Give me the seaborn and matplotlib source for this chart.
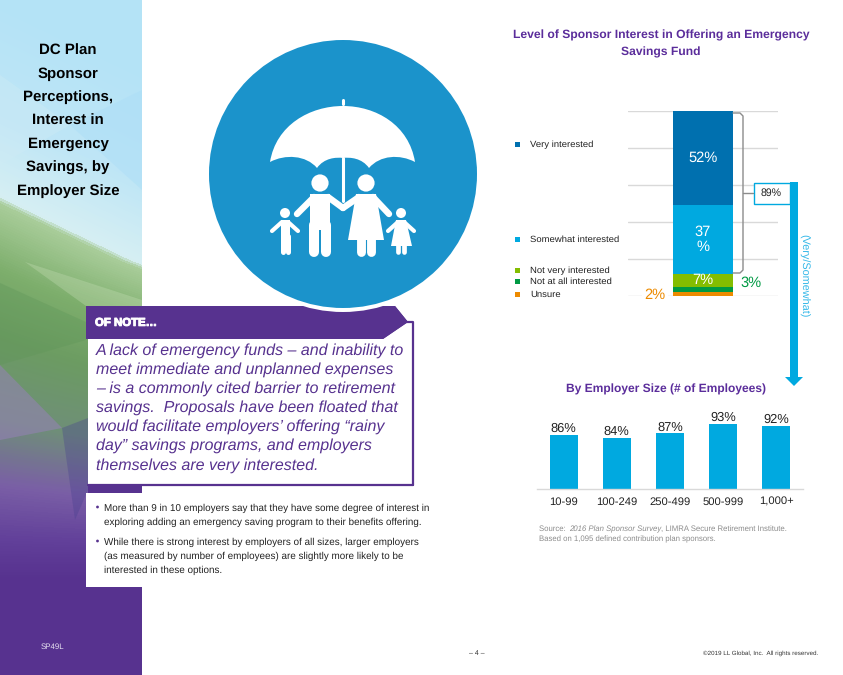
import numpy as np
import pandas as pd
import seaborn as sns
import matplotlib.pyplot as plt
import matplotlib.patheffects as pe
from matplotlib.patches import Polygon, Circle, Rectangle, PathPatch
from matplotlib.path import Path
from matplotlib.colors import LinearSegmentedColormap

# stacked bar, bottom to top
stack_labels = ['Unsure', 'Not at all interested', 'Not very interested', 'Somewhat interested', 'Very interested']
stack_values = [2, 3, 7, 37, 52]
stack_colors = ['#ED8B00', '#009A44', '#84BD00', '#00A9E0', '#0070AF']

sizes = ['10-99', '100-249', '250-499', '500-999', '1,000+']
size_values = [86, 84, 87, 93, 92]

PURPLE = '#57328F'
TITLE_PURPLE = '#5B2D9B'
BLUE = '#00A9E0'
W, H = 843, 675

sns.set_theme(style='white')
plt.rcParams['font.family'] = ['Liberation Sans', 'DejaVu Sans']
plt.rcParams['text.hinting'] = 'no_hinting'
plt.rcParams['patch.linewidth'] = 0

fig = plt.figure(figsize=(W / 100, H / 100), dpi=100, facecolor='white')


def px_axes(z):
    a = fig.add_axes([0, 0, 1, 1], zorder=z)
    a.set_xlim(0, W)
    a.set_ylim(H, 0)
    a.axis('off')
    a.patch.set_alpha(0)
    return a


def chart_axes(x0, x1, y_top, y_bottom):
    return fig.add_axes([x0 / W, 1 - y_bottom / H, (x1 - x0) / W, (y_bottom - y_top) / H], zorder=1)


bg = px_axes(0)
fg = px_axes(2)

# side panel: the bands run on a diagonal up top and flatten out into the purple
cmap = LinearSegmentedColormap.from_list('side', [
    (0.0, '#B4E3F6'), (0.17, '#BFE6F6'), (0.29, '#D6EFF3'), (0.30, '#A9CD9A'),
    (0.40, '#7DAE6C'), (0.50, '#6C9C62'), (0.62, '#6F8F78'), (0.72, '#7A5FA6'),
    (0.80, '#62409A'), (0.86, PURPLE), (1.0, PURPLE)])
px, py = np.meshgrid(np.arange(142) + 0.5, np.arange(H) + 0.5)
band = py - 0.48 * px * np.clip((560 - py) / 300, 0, 1)
bg.imshow(band / H, cmap=cmap, vmin=0, vmax=1, extent=(0, 142, H, 0), aspect='auto', zorder=0)
bg.set_xlim(0, W)
bg.set_ylim(H, 0)
bg.add_patch(Polygon([(0, 75), (70, 125), (0, 165)], fc='#CFEBF5', alpha=0.4, ec='none'))
bg.add_patch(Polygon([(142, 90), (142, 190), (70, 125)], fc='#A8DCF6', alpha=0.4, ec='none'))
bg.add_patch(Polygon([(25, 262), (142, 300), (142, 322), (86, 306)], fc='#C4DDB4', alpha=0.35, ec='none'))
bg.add_patch(Polygon([(0, 283), (86, 322), (86, 340), (0, 365)], fc='#5E9558', alpha=0.35, ec='none'))
bg.add_patch(Polygon([(0, 365), (62, 428), (0, 440)], fc='#9A80BE', alpha=0.5, ec='none'))
bg.add_patch(Polygon([(62, 428), (88, 418), (88, 490), (75, 520)], fc='#48408F', alpha=0.35, ec='none'))

bg.text(68, 121, 'DC Plan\nSponsor\nPerceptions,\nInterest in\nEmergency\nSavings, by\nEmployer Size',
        ha='center', va='center', fontsize=10.8, fontweight='bold', color='black', linespacing=1.87)
bg.text(41, 647, 'SP49L', ha='left', va='center', fontsize=5.7, color='#E6E0F0')

# note box and big circle
bg.add_patch(Polygon([(86, 306), (395, 306), (408, 322), (383, 339), (86, 339)], fc=PURPLE, ec='none', zorder=1))
bg.add_patch(Rectangle((88, 339), 325, 146, fc='white', ec='none', zorder=1))
bg.plot([403, 413, 413], [322, 322, 485], color=PURPLE, lw=1.6, zorder=1.2)
bg.plot([88, 413], [485, 485], color=PURPLE, lw=1.6, zorder=1.2)
bg.add_patch(Rectangle((88, 485), 54, 8, fc=PURPLE, ec='none', zorder=0.5))
bg.add_patch(Circle((343, 174), 138, fc='white', ec='none', zorder=1.3))
bg.add_patch(Circle((343, 174), 134, fc='#1B93CB', ec='none', zorder=1.4))
bg.add_patch(Polygon([(395, 306), (408, 322), (383, 339), (370, 322)], fc=PURPLE, ec='none', zorder=1.5))

canopy = [(Path.MOVETO, (270, 162)), (Path.CURVE4, (276, 125)), (Path.CURVE4, (310, 106)), (Path.CURVE4, (343, 106)),
          (Path.CURVE4, (376, 106)), (Path.CURVE4, (409, 125)), (Path.CURVE4, (415, 162)),
          (Path.CURVE4, (400, 154)), (Path.CURVE4, (380, 155)), (Path.CURVE4, (369, 168)),
          (Path.CURVE4, (362, 158)), (Path.CURVE4, (350, 157)), (Path.CURVE4, (343, 158)),
          (Path.CURVE4, (336, 157)), (Path.CURVE4, (324, 158)), (Path.CURVE4, (317, 168)),
          (Path.CURVE4, (306, 155)), (Path.CURVE4, (285, 154)), (Path.CURVE4, (270, 162))]
codes, verts = zip(*canopy)
bg.add_patch(PathPatch(Path(verts, codes), fc='white', ec='none', zorder=3))


def limb(xs, ys, w):
    bg.plot(xs, ys, color='white', lw=w, solid_capstyle='round', zorder=3)


limb([343, 343], [100, 104], 2.2)
limb([343, 343], [158, 201], 2.2)
# father
bg.add_patch(Circle((320, 183), 8.6, fc='white', ec='none', zorder=3))
bg.add_patch(Rectangle((310, 194), 20, 36, fc='white', ec='none', zorder=3))
limb([314, 297], [197, 214], 4.6)
limb([328, 343], [197, 208], 4.6)
limb([314, 314], [225, 252], 7.2)
limb([326, 326], [225, 252], 7.2)
# mother
bg.add_patch(Circle((366, 183), 8.6, fc='white', ec='none', zorder=3))
bg.add_patch(Polygon([(356, 194), (376, 194), (384, 240), (348, 240)], fc='white', ec='none', zorder=3))
limb([359, 343], [197, 208], 4.6)
limb([373, 389], [197, 214], 4.6)
limb([360.5, 360.5], [238, 252], 6.4)
limb([370.5, 370.5], [238, 252], 6.4)
# boy
bg.add_patch(Circle((285, 213), 5, fc='white', ec='none', zorder=3))
bg.add_patch(Rectangle((280.5, 220), 9.5, 18, fc='white', ec='none', zorder=3))
limb([282, 272], [222, 231], 3)
limb([288, 298], [222, 231], 3)
limb([282.5, 282.5], [236, 252], 3.6)
limb([288, 288], [236, 252], 3.6)
# girl
bg.add_patch(Circle((401, 213), 5, fc='white', ec='none', zorder=3))
bg.add_patch(Polygon([(396, 220), (406, 220), (412, 246), (391, 246)], fc='white', ec='none', zorder=3))
limb([398, 388], [222, 231], 3)
limb([404, 414], [222, 231], 3)
limb([398, 398], [244, 252], 3.4)
limb([404, 404], [244, 252], 3.4)

# note box text
bg.text(95, 323, 'OF NOTE…', ha='left', va='center', fontsize=8.2, fontweight='bold', color='white', zorder=4,
        path_effects=[pe.withStroke(linewidth=0.7, foreground='white')])
note_lines = ['A lack of emergency funds – and inability to', 'meet immediate and unplanned expenses',
              '– is a commonly cited barrier to retirement', 'savings.  Proposals have been floated that',
              'would facilitate employers’ offering “rainy', 'day” savings programs, and employers',
              'themselves are very interested.']
note_y = [351, 370, 389, 408, 427, 446, 466]
for line, y in zip(note_lines, note_y):
    bg.text(96, y, line, ha='left', va='center', fontsize=11.5, style='italic', color=PURPLE, zorder=4)

# bullets, sit on a white notch cut out of the side panel
bg.add_patch(Rectangle((86, 493), 56, 94, fc='white', ec='none', zorder=1))
bullet_lines = ['More than 9 in 10 employers say that they have some degree of interest in',
                'exploring adding an emergency saving program to their benefits offering.',
                'While there is strong interest by employers of all sizes, larger employers',
                '(as measured by number of employees) are slightly more likely to be',
                'interested in these options.']
bullet_y = [508, 522, 542, 556, 570]
for line, y in zip(bullet_lines, bullet_y):
    bg.text(104.5, y, line, ha='left', va='center', fontsize=7.1, color='#222222', zorder=4)
for y in [507, 541]:
    bg.add_patch(Circle((97.5, y), 1.4, fc=PURPLE, ec='none', zorder=4))

# titles and footer
bg.text(661, 44, 'Level of Sponsor Interest in Offering an Emergency\nSavings Fund', ha='center', va='center',
        fontsize=8.7, fontweight='bold', color=TITLE_PURPLE, linespacing=1.58)
bg.text(666, 389, 'By Employer Size (# of Employees)', ha='center', va='center',
        fontsize=8.65, fontweight='bold', color=TITLE_PURPLE)
source_color = '#8C8C8C'
t1 = bg.text(539, 529, 'Source: ', ha='left', va='center', fontsize=5.55, color=source_color)
t2 = bg.annotate('2016 Plan Sponsor Survey', xy=(1, 0.5), xycoords=t1, xytext=(1, 0), textcoords='offset points',
                 ha='left', va='center', fontsize=5.55, style='italic', color=source_color)
bg.annotate(', LIMRA Secure Retirement Institute.', xy=(1, 0.5), xycoords=t2, ha='left', va='center',
            fontsize=5.55, color=source_color)
bg.text(539, 539, 'Based on 1,095 defined contribution plan sponsors.', ha='left', va='center', fontsize=5.55,
        color=source_color)
bg.text(477, 653, '– 4 –', ha='center', va='center', fontsize=5, color='#333333')
bg.text(818, 653, '©2019 LL Global, Inc.  All rights reserved.', ha='right', va='center', fontsize=4.5, color='#333333')

# stacked bar
ax = chart_axes(628, 778, 111, 296)
ax.patch.set_alpha(0)
stack_df = pd.DataFrame({'group': ['all'] * 5, 'label': stack_labels, 'value': stack_values})
bottom = 0
for i, row in stack_df.iterrows():
    sns.barplot(data=stack_df[stack_df['label'] == row['label']], x='group', y='value', color=stack_colors[i],
                width=0.4, bottom=bottom, saturation=1, errorbar=None, linewidth=0, ax=ax, zorder=2)
    bottom += row['value']
ax.set_xlim(-0.5, 0.5)
ax.set_ylim(0, 100)
ax.set_yticks([0, 20, 40, 60, 80, 100])
ax.grid(axis='y', color='#D9D9D9', lw=1)
ax.set_axisbelow(True)
ax.tick_params(left=False, bottom=False, labelleft=False, labelbottom=False)
ax.set_xlabel('')
ax.set_ylabel('')
sns.despine(ax=ax, left=True, bottom=True, top=True, right=True)
for bars, text in [(ax.containers[4], '52%'), (ax.containers[3], '37\n%'), (ax.containers[2], '7%')]:
    ax.bar_label(bars, labels=[text], label_type='center', color='white', fontsize=10.5, linespacing=1.15)

# legend, typed by hand because the rows are spaced to follow the bar
legend_y = [294, 281, 270, 239, 144]
for label, color, y in zip(stack_labels, stack_colors, legend_y):
    fg.add_patch(Rectangle((515, y - 2.5), 5, 5, fc=color, ec='none'))
    fg.text(530, y + 1, label, ha='left', va='center', fontsize=6.8, color='#222222')

fg.text(655, 295, '2%', ha='center', va='center', fontsize=10.5, color=stack_colors[0],
        bbox=dict(fc='white', ec='none', pad=1.5))
fg.text(751, 283, '3%', ha='center', va='center', fontsize=10.5, color=stack_colors[1])

# bracket, 89% box and arrow
fg.plot([733, 740, 743, 743, 740, 733], [113, 113, 116, 270, 273, 273], color='#8C8C8C', lw=1)
fg.plot([743, 753], [193, 193], color='#8C8C8C', lw=1)
fg.add_patch(Polygon([(790, 182), (798, 182), (798, 377), (803, 377), (794, 386), (785, 377), (790, 377)],
                     fc=BLUE, ec='none'))
fg.add_patch(Rectangle((753.5, 182.5), 36, 21.5, fc='white', ec=BLUE, lw=1))
fg.text(771.5, 193.5, '89%', ha='center', va='center', fontsize=7.6, color='#222222')
fg.text(803.5, 276, '(Very/Somewhat)', ha='center', va='center', rotation=-90, fontsize=7.8, color='#35B8E8')

# employer size bars
ax2 = chart_axes(537, 803, 413.5, 489)
ax2.patch.set_alpha(0)
sns.barplot(x=sizes, y=size_values, color=BLUE, width=0.53, saturation=1, errorbar=None, linewidth=0, ax=ax2)
ax2.set_ylim(50, 100)
ax2.set_xlim(-0.5, 4.5)
ax2.set_yticks([])
ax2.tick_params(axis='x', bottom=False, length=0, pad=5.5, labelsize=8.1, labelcolor='#222222')
sns.despine(ax=ax2, left=True, top=True, right=True)
ax2.spines['bottom'].set_color('#D9D9D9')
ax2.spines['bottom'].set_linewidth(1)
ax2.bar_label(ax2.containers[0], labels=[f'{v}%' for v in size_values], fontsize=9.3, color='#222222', padding=0)

fig.savefig('out.png', dpi=100)
